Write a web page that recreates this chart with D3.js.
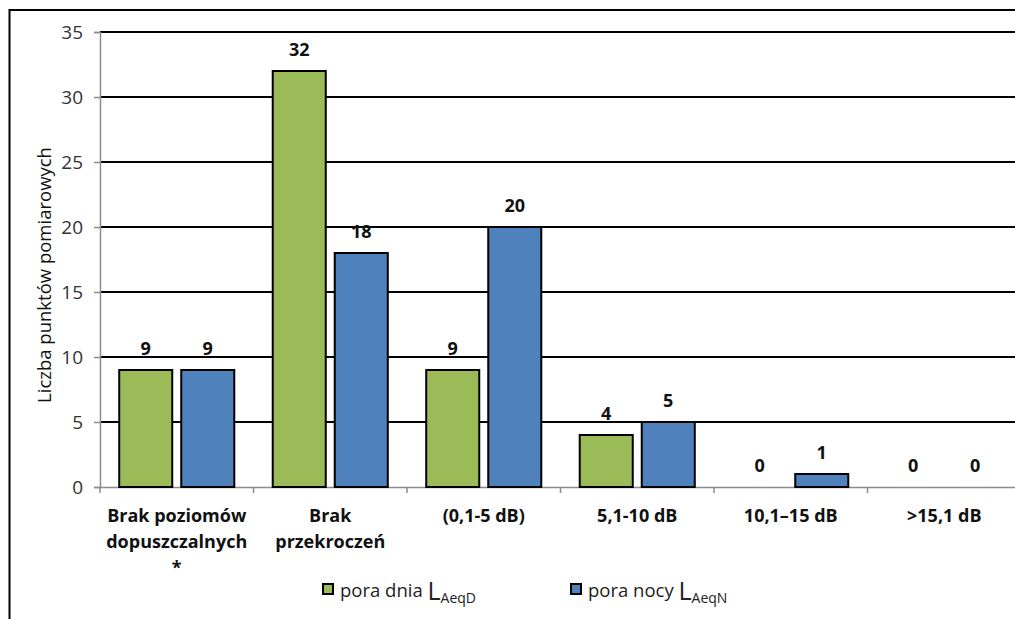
<!DOCTYPE html>
<html>
<head>
<meta charset="utf-8">
<script src="https://cdn.jsdelivr.net/npm/d3@7"></script>
<style>
  html, body { margin: 0; padding: 0; background: #fff; }
  svg { display: block; font-family: "Open Sans", sans-serif; }
</style>
</head>
<body>
<svg id="chart" width="1015" height="619"></svg>
<script>
// Liczba punktów pomiarowych wg przekroczeń poziomów dopuszczalnych
const categories = [
  ["Brak poziomów", "dopuszczalnych", "*"],
  ["Brak", "przekroczeń"],
  ["(0,1-5 dB)"],
  ["5,1-10 dB"],
  ["10,1–15 dB"],
  [">15,1 dB"]
];
const dayValues = [9, 32, 9, 4, 0, 0];    // pora dnia L_AeqD
const nightValues = [9, 18, 20, 5, 1, 0]; // pora nocy L_AeqN
const yTicks = [0, 5, 10, 15, 20, 25, 30, 35];
const seriesNames = ["day", "night"];
const seriesColors = { day: "#9BBB59", night: "#4F81BD" };

const FONT = "'Open Sans', sans-serif";
const svg = d3.select("#chart");

const plot = { left: 100, top: 32, bottom: 487, step: 153.5 };
const catKeys = categories.map((c, i) => i);

const x = d3.scaleBand()
  .domain(catKeys)
  .range([plot.left, plot.left + plot.step * categories.length])
  .padding(0);

const xInner = d3.scaleBand()
  .domain(seriesNames)
  .range([0, x.bandwidth()])
  .paddingInner(0.145)
  .paddingOuter(0.31);

const y = d3.scaleLinear().domain([0, 35]).range([plot.bottom, plot.top]);

// outer frame
svg.append("rect")
  .attr("x", 9.5).attr("y", 10)
  .attr("width", 1030).attr("height", 640)
  .attr("fill", "none").attr("stroke", "#000").attr("stroke-width", 2);

// horizontal gridlines
svg.append("g")
  .selectAll("line")
  .data(yTicks.filter(t => t > 0))
  .join("line")
  .attr("x1", plot.left).attr("x2", 1015)
  .attr("y1", d => Math.round(y(d))).attr("y2", d => Math.round(y(d)))
  .attr("stroke", "#000").attr("stroke-width", 2);

// y axis
const yAxis = svg.append("g")
  .attr("transform", `translate(${plot.left},0)`)
  .call(d3.axisLeft(y).tickValues(yTicks).tickSize(6).tickPadding(11));
yAxis.select(".domain").attr("stroke", "#8c8c8c").attr("stroke-width", 1.5);
yAxis.selectAll(".tick line").attr("stroke", "#8c8c8c").attr("stroke-width", 1.5);
yAxis.selectAll(".tick text")
  .attr("font-family", FONT)
  .attr("font-size", 19).attr("fill", "#333");

// x axis
const xAxis = svg.append("g")
  .attr("transform", `translate(0,${plot.bottom})`)
  .call(d3.axisBottom(x).tickSize(0).tickFormat(""));
xAxis.select(".domain").attr("stroke", "#8c8c8c").attr("stroke-width", 1.5);
xAxis.selectAll(".tick").remove();
// category boundary ticks
xAxis.append("g")
  .selectAll("line")
  .data(catKeys.concat([categories.length]))
  .join("line")
  .attr("x1", d => x.range()[0] + d * x.step())
  .attr("x2", d => x.range()[0] + d * x.step())
  .attr("y1", 0).attr("y2", 6)
  .attr("stroke", "#8c8c8c").attr("stroke-width", 1.5);

// category labels
const catLabels = svg.append("g")
  .attr("font-family", FONT)
  .attr("font-weight", "bold")
  .attr("font-size", 18)
  .attr("fill", "#111")
  .attr("text-anchor", "middle");
categories.forEach((lines, i) => {
  const t = catLabels.append("text")
    .attr("x", x(i) + x.bandwidth() / 2)
    .attr("y", 522);
  lines.forEach((ln, j) => {
    t.append("tspan")
      .attr("x", x(i) + x.bandwidth() / 2)
      .attr("dy", j === 0 ? 0 : 26)
      .text(ln);
  });
});

// bars
const rows = catKeys.map(i => ({ i, day: dayValues[i], night: nightValues[i] }));
const groups = svg.append("g")
  .selectAll("g")
  .data(rows)
  .join("g")
  .attr("transform", d => `translate(${x(d.i)},0)`);

groups.selectAll("rect")
  .data(d => seriesNames.map(k => ({ key: k, value: d[k] })).filter(e => e.value > 0))
  .join("rect")
  .attr("x", d => xInner(d.key))
  .attr("y", d => y(d.value))
  .attr("width", xInner.bandwidth())
  .attr("height", d => y(0) - y(d.value))
  .attr("fill", d => seriesColors[d.key])
  .attr("stroke", "#000").attr("stroke-width", 2);

groups.selectAll("text")
  .data(d => seriesNames.map(k => ({ key: k, value: d[k] })))
  .join("text")
  .attr("x", d => xInner(d.key) + xInner.bandwidth() / 2)
  .attr("y", d => y(d.value) - 15)
  .attr("text-anchor", "middle")
  .attr("font-family", FONT)
  .attr("font-weight", "bold")
  .attr("font-size", 18)
  .attr("fill", "#111")
  .text(d => d.value);

// y axis title
svg.append("text")
  .attr("transform", "translate(51,275) rotate(-90)")
  .attr("text-anchor", "middle")
  .attr("font-family", FONT)
  .attr("font-size", 18.5)
  .attr("fill", "#111")
  .text("Liczba punktów pomiarowych");

// legend
const legendItems = [
  { key: "day", x: 323, label: "pora dnia ", sub: "AeqD" },
  { key: "night", x: 571, label: "pora nocy ", sub: "AeqN" }
];
const legend = svg.append("g");
legendItems.forEach(it => {
  legend.append("rect")
    .attr("x", it.x).attr("y", 584)
    .attr("width", 10).attr("height", 10)
    .attr("fill", seriesColors[it.key])
    .attr("stroke", "#000").attr("stroke-width", 2);
  const t = legend.append("text")
    .attr("x", it.x + 17).attr("y", 597)
    .attr("font-family", FONT)
    .attr("font-size", 18.5)
    .attr("fill", "#222");
  t.append("tspan").text(it.label);
  t.append("tspan").attr("font-size", 25).attr("dy", 3).text("L");
  t.append("tspan").attr("font-size", 14).attr("dy", 3).text(it.sub);
});
</script>
</body>
</html>
